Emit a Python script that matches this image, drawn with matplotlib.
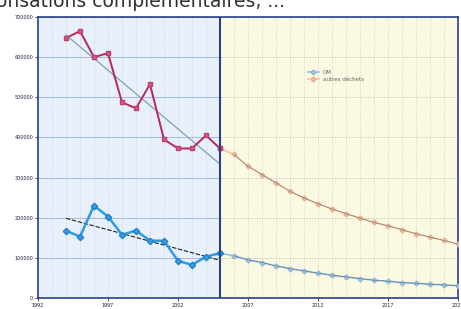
import matplotlib.pyplot as plt
import numpy as np

# historique (tonnes)
years_hist = np.arange(1994, 2006)
autres_hist = [647500, 665000, 600000, 610000, 487500, 472500,
               532500, 395000, 372500, 372500, 405000, 372500]
om_hist = [167500, 153000, 230000, 203000, 157500, 168000,
           143000, 142500, 92500, 82500, 103000, 111500]

# projection
years_proj = np.arange(2006, 2023)
autres_proj = [357500, 328000, 307500, 286750, 265750, 249250, 235000, 221750, 210000,
               199250, 188250, 180000, 170000, 160000, 151750, 143250, 134250]
om_proj = [105000, 95000, 88250, 80000, 73250, 67500, 61750, 56750, 52500,
           48250, 44250, 41750, 38250, 36750, 34250, 32500, 30750]

x_ticks = [1992, 1997, 2002, 2007, 2012, 2017, 2022]
y_ticks = np.arange(0, 700001, 100000)
split_year = 2005

fig = plt.figure(figsize=(4.61, 3.09), dpi=100)
fig.patch.set_facecolor('white')
ax = fig.add_axes([0.0824, 0.0356, 0.911, 0.9094])

navy = '#27408b'
ax.axvspan(1992, split_year, color='#e7f0fb', zorder=0)
ax.axvspan(split_year, 2022, color='#fcf9e3', zorder=0)

# grille
for yr in range(1992, 2023):
    ax.axvline(yr, color='#c8c8c8', lw=0.5, ls=(0, (1, 1.5)), zorder=1)
for yv in y_ticks[1:]:
    ax.plot([1992, split_year], [yv, yv], color='#9ab4dc', lw=0.6, zorder=1)
    ax.plot([split_year, 2022], [yv, yv], color='#b0b0b0', lw=0.5, ls=(0, (2, 2)), zorder=1)

# tendances
c = np.polyfit(years_hist, autres_hist, 1)
xt = np.array([1994, 2005])
ax.plot(xt, np.polyval(c, xt), color='#7fa0b8', lw=0.9, zorder=2)
c2 = np.polyfit(years_hist, om_hist, 1)
ax.plot(xt, np.polyval(c2, xt), color='#202020', lw=0.8, ls=(0, (4, 1.5)), zorder=2)

# projections
ax.plot(np.r_[years_hist[-1], years_proj], np.r_[autres_hist[-1], autres_proj],
        color='#f2c4a0', lw=1.2, marker='D', ms=2.5, mfc='#f0c0a0', mec='#e8b090',
        zorder=3, label='autres déchets')
ax.plot(years_proj, autres_proj, color='#707070', lw=0.4, zorder=3)
ax.plot(np.r_[years_hist[-1], years_proj], np.r_[om_hist[-1], om_proj],
        color='#8ec0e0', lw=1.2, marker='D', ms=2.5, mfc='#a8cce4', mec='#90b8d8',
        zorder=3, label='OM')
ax.plot(years_proj, om_proj, color='#607080', lw=0.4, zorder=3)

# historique
ax.plot(years_hist, autres_hist, color='#b8285a', lw=1.4, marker='s', ms=3.5,
        mfc='#d45a88', mec='#c04070', zorder=4)
ax.plot(years_hist, om_hist, color='#2f9be3', lw=1.8, marker='D', ms=3.2,
        mfc='#3aa0e6', mec='#2080c8', zorder=4)

ax.axvline(split_year, color=navy, lw=1.5, zorder=5)

ax.set_xlim(1992, 2022)
ax.set_ylim(0, 700000)
ax.set_xticks(x_ticks)
ax.set_xticklabels([str(v) for v in x_ticks], fontsize=3.5, color='#202040')
ax.set_yticks(y_ticks)
ax.set_yticklabels([str(v) for v in y_ticks], fontsize=3.5, color='#202040')
ax.tick_params(length=2, width=0.5, pad=1.5)
for s in ax.spines.values():
    s.set_color(navy)
    s.set_linewidth(1.2)

h, l = ax.get_legend_handles_labels()
ax.legend(h[::-1], l[::-1], loc='upper left', bbox_to_anchor=(0.63, 0.83),
          frameon=False, fontsize=4, handlelength=2, labelspacing=0.4,
          labelcolor='#606060')

fig.text(-0.008, 1.03, 'onsations complémentaires, ...', fontsize=13.5,
         color='#303030', va='top', ha='left', family='DejaVu Sans')

fig.savefig('out.png', dpi=100)
